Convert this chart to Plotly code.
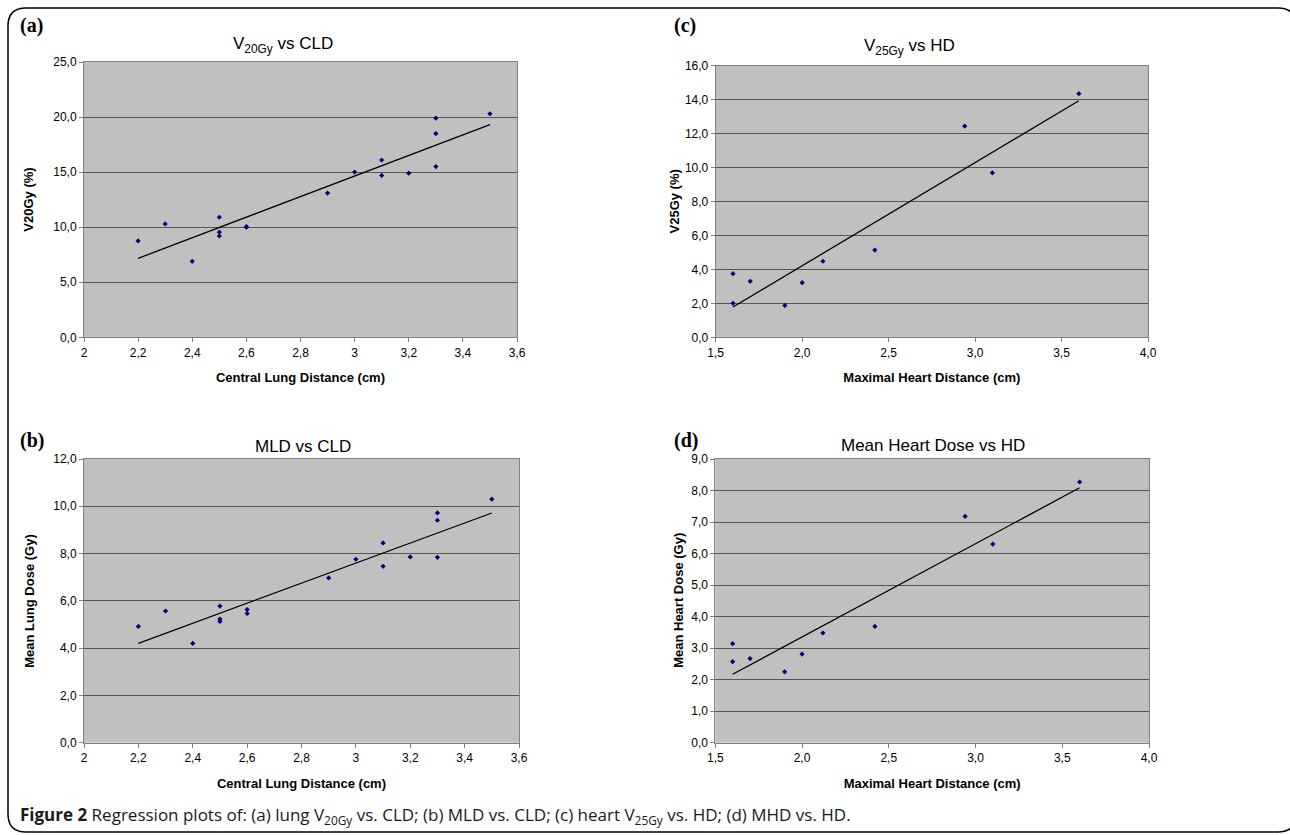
import numpy as np
import plotly.graph_objects as go

# ---- data ----
cld_a = [3.3, 3.5, 3.3, 3.1, 3.0, 3.1, 3.2, 3.3, 2.9, 2.2, 2.3, 2.5, 2.5, 2.5, 2.6, 2.6, 2.4]
v20 = [19.9, 20.3, 18.5, 16.1, 15.0, 14.7, 14.9, 15.5, 13.1, 8.75, 10.3, 10.9, 9.55, 9.2, 10.0, 10.05, 6.9]

cld_b = [3.5, 3.3, 3.3, 3.1, 3.0, 3.1, 3.2, 3.3, 2.9, 2.2, 2.3, 2.5, 2.5, 2.5, 2.6, 2.6, 2.4]
mld = [10.3, 9.72, 9.41, 8.45, 7.76, 7.46, 7.86, 7.84, 6.97, 4.92, 5.57, 5.78, 5.23, 5.13, 5.63, 5.47, 4.2]

hd_c = [3.6, 2.94, 3.1, 1.6, 1.6, 1.7, 1.9, 2.0, 2.12, 2.42]
v25 = [14.35, 12.44, 9.69, 3.75, 2.0, 3.3, 1.88, 3.22, 4.48, 5.14]

hd_d = [3.6, 2.94, 3.1, 1.6, 1.6, 1.7, 1.9, 2.0, 2.12, 2.42]
mhd = [8.27, 7.18, 6.30, 3.14, 2.57, 2.67, 2.25, 2.81, 3.48, 3.69]

W, H = 1290, 835

def px(x):
    return x / W

def py(y):
    return 1 - y / H

panels = [
    dict(x=cld_a, y=v20, xa="x", ya="y", xdom=[px(84), px(517)], ydom=[py(337.3), py(62)],
         xr=[2, 3.6], xd=0.2, xfmt="", yr=[0, 25], yd=5,
         title="V<sub>20Gy</sub> vs CLD", tx=283, ty=45,
         xt="Central Lung Distance (cm)", yt="V20Gy (%)", ytx=29,
         label="(a)", lx=18, ly=25),
    dict(x=cld_b, y=mld, xa="x2", ya="y2", xdom=[px(84), px(519)], ydom=[py(742.7), py(459)],
         xr=[2, 3.6], xd=0.2, xfmt="", yr=[0, 12], yd=2,
         title="MLD vs CLD", tx=303, ty=446,
         xt="Central Lung Distance (cm)", yt="Mean Lung Dose (Gy)", ytx=30,
         label="(b)", lx=18, ly=440),
    dict(x=hd_c, y=v25, xa="x3", ya="y3", xdom=[px(715.7), px(1148)], ydom=[py(337.3), py(65.7)],
         xr=[1.5, 4.0], xd=0.5, xfmt=".1f", yr=[0, 16], yd=2,
         title="V<sub>25Gy</sub> vs HD", tx=909, ty=47,
         xt="Maximal Heart Distance (cm)", yt="V25Gy (%)", ytx=674,
         label="(c)", lx=672, ly=25),
    dict(x=hd_d, y=mhd, xa="x4", ya="y4", xdom=[px(715.3), px(1149)], ydom=[py(742.7), py(459)],
         xr=[1.5, 4.0], xd=0.5, xfmt=".1f", yr=[0, 9], yd=1,
         title="Mean Heart Dose vs HD", tx=933, ty=445,
         xt="Maximal Heart Distance (cm)", yt="Mean Heart Dose (Gy)", ytx=679,
         label="(d)", lx=672, ly=440),
]

fig = go.Figure()
NARROW = "Liberation Sans Narrow, Arial Narrow, Liberation Sans"
tickfont = dict(family=NARROW, size=12, color="#000000")
axtitlefont = dict(family=NARROW, size=13, color="#000000")
annotations = []
layout = {}

for i, p in enumerate(panels):
    k = "" if i == 0 else str(i + 1)
    fig.add_trace(go.Scatter(x=p["x"], y=p["y"], mode="markers", xaxis=p["xa"], yaxis=p["ya"],
                             marker=dict(symbol="diamond", size=4, color="#000080"),
                             showlegend=False, hoverinfo="x+y"))
    xs = np.array(p["x"]); ys = np.array(p["y"])
    m, b = np.polyfit(xs, ys, 1)
    xl = np.array([xs.min(), xs.max()])
    fig.add_trace(go.Scatter(x=xl, y=m * xl + b, mode="lines", xaxis=p["xa"], yaxis=p["ya"],
                             line=dict(color="#000000", width=1.3), showlegend=False, hoverinfo="skip"))
    xaxis = dict(domain=p["xdom"], range=p["xr"], dtick=p["xd"], tick0=p["xr"][0],
                 anchor="y" + k, automargin=False,
                 showgrid=False, zeroline=False, showline=True, mirror=True,
                 linecolor="#808080", linewidth=1, ticks="outside", ticklen=4,
                 tickcolor="#808080", tickfont=tickfont,
                 title=dict(text="<b>" + p["xt"] + "</b>", font=axtitlefont, standoff=14))
    if p["xfmt"]:
        xaxis["tickformat"] = p["xfmt"]
    layout["xaxis" + k] = xaxis
    layout["yaxis" + k] = dict(domain=p["ydom"], range=p["yr"], dtick=p["yd"], tick0=0,
                               tickformat=".1f", anchor="x" + k, automargin=False,
                               showgrid=True, gridcolor="#555555", gridwidth=1, zeroline=False,
                               showline=True, mirror=True, linecolor="#808080", linewidth=1,
                               ticks="outside", ticklen=4, tickcolor="#808080", tickfont=tickfont)
    # y-axis title
    yc = (p["ydom"][0] + p["ydom"][1]) / 2
    annotations.append(dict(text="<b>" + p["yt"] + "</b>", x=px(p["ytx"]), y=yc,
                            xref="paper", yref="paper", xanchor="center", yanchor="middle",
                            textangle=-90, showarrow=False, font=axtitlefont))
    # chart title
    annotations.append(dict(text=p["title"], x=px(p["tx"]), y=py(p["ty"]), xref="paper", yref="paper",
                            xanchor="center", yanchor="middle", showarrow=False,
                            font=dict(family=NARROW, size=17, color="#000000")))
    # panel label
    annotations.append(dict(text="<b>" + p["label"] + "</b>", x=px(p["lx"]), y=py(p["ly"]),
                            xref="paper", yref="paper", xanchor="left", yanchor="middle",
                            showarrow=False,
                            font=dict(family="Liberation Serif, DejaVu Serif", size=20, color="#000000")))

annotations.append(dict(
    text="<b>Figure 2</b> Regression plots of: (a) lung V<sub>20Gy</sub> vs. CLD; (b) MLD vs. CLD; "
         "(c) heart V<sub>25Gy</sub> vs. HD; (d) MHD vs. HD.",
    x=px(18), y=py(815), xref="paper", yref="paper", xanchor="left", yanchor="middle",
    showarrow=False, font=dict(family="Open Sans, Noto Sans", size=17, color="#1a1a1a")))

r = 18
x0, y0, x1, y1 = 8, 8, 1296, 832
path = (f"M {px(x0 + r)},{py(y0)} L {px(x1 - r)},{py(y0)} "
        f"Q {px(x1)},{py(y0)} {px(x1)},{py(y0 + r)} L {px(x1)},{py(y1 - r)} "
        f"Q {px(x1)},{py(y1)} {px(x1 - r)},{py(y1)} L {px(x0 + r)},{py(y1)} "
        f"Q {px(x0)},{py(y1)} {px(x0)},{py(y1 - r)} L {px(x0)},{py(y0 + r)} "
        f"Q {px(x0)},{py(y0)} {px(x0 + r)},{py(y0)} Z")

fig.update_layout(
    width=W, height=H, margin=dict(l=0, r=0, t=0, b=0, pad=0), autosize=False,
    paper_bgcolor="#ffffff", plot_bgcolor="#c0c0c0",
    separators=", ", annotations=annotations,
    shapes=[dict(type="path", path=path, xref="paper", yref="paper",
                 line=dict(color="#000000", width=1.5), layer="below")],
    **layout,
)

fig.write_html("out.html", config={"displayModeBar": False},
               post_script="document.body.style.margin='0';document.body.style.padding='0';"
                           "document.documentElement.style.overflow='hidden';")
